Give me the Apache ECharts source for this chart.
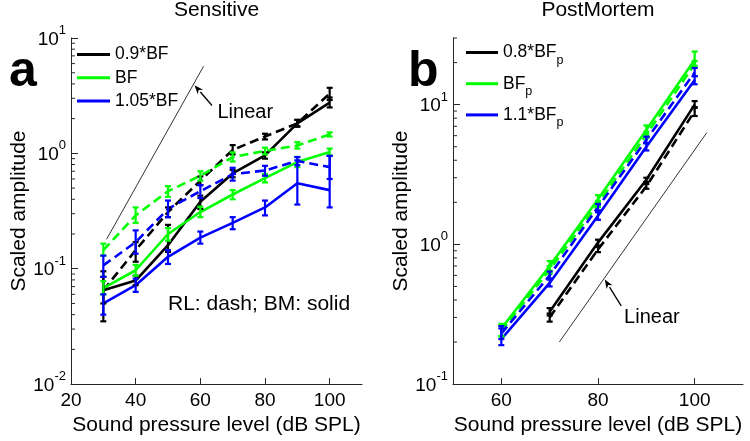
<!DOCTYPE html>
<html><head><meta charset="utf-8">
<script src="https://cdn.jsdelivr.net/npm/echarts@6/dist/echarts.min.js"></script>
<style>html,body{margin:0;padding:0;background:#fff}#c{width:750px;height:441px}</style>
</head><body><div id="c"></div>
<script>
// ---------- Panel a: Sensitive ----------
const splA = [30, 40, 50, 60, 70, 80, 90, 100];
const blackRL   = [0.065, 0.145, 0.31, 0.58, 1.07, 1.40, 1.82, 3.3];
const blackRLlo = [0.05, 0.115, 0.28, 0.53, 0.98, 1.32, 1.72, 2.9];
const blackRLhi = [0.085, 0.17, 0.34, 0.63, 1.18, 1.48, 1.95, 3.7];
const blackBM   = [0.065, 0.079, 0.16, 0.38, 0.67, 0.96, 1.82, 2.75];
const blackBMlo = [0.035, 0.072, 0.14, 0.33, 0.62, 0.90, 1.70, 2.5];
const blackBMhi = [0.095, 0.087, 0.24, 0.43, 0.72, 1.02, 1.95, 3.05];
const greenRL   = [0.145, 0.29, 0.47, 0.64, 0.93, 1.05, 1.17, 1.46];
const greenRLlo = [0.13, 0.25, 0.42, 0.58, 0.85, 0.98, 1.10, 1.40];
const greenRLhi = [0.165, 0.34, 0.52, 0.70, 1.02, 1.12, 1.25, 1.52];
const greenBM   = [0.068, 0.097, 0.20, 0.31, 0.44, 0.61, 0.84, 1.03];
const greenBMlo = [0.06, 0.087, 0.175, 0.28, 0.40, 0.56, 0.76, 0.96];
const greenBMhi = [0.078, 0.108, 0.225, 0.345, 0.48, 0.66, 0.93, 1.10];
const blueRL    = [0.107, 0.17, 0.33, 0.47, 0.66, 0.71, 0.86, 0.76];
const blueRLlo  = [0.085, 0.135, 0.28, 0.41, 0.58, 0.64, 0.79, 0.60];
const blueRLhi  = [0.13, 0.215, 0.39, 0.53, 0.75, 0.78, 0.93, 0.95];
const blueBM    = [0.05, 0.072, 0.127, 0.186, 0.25, 0.34, 0.55, 0.48];
const blueBMlo  = [0.04, 0.063, 0.11, 0.165, 0.22, 0.29, 0.36, 0.34];
const blueBMhi  = [0.06, 0.082, 0.145, 0.21, 0.28, 0.39, 0.87, 0.95];
const linearA_x = [31, 61];
const linearA_y = [0.18, 5.69];
const namesA = ['0.9*BF', 'BF', '1.05*BF'];
const xTicksA = [20, 40, 60, 80, 100];
const yTicksA = [0.01, 0.1, 1, 10];
const yMinorA = [0.02,0.03,0.04,0.05,0.06,0.07,0.08,0.09,0.2,0.3,0.4,0.5,0.6,0.7,0.8,0.9,2,3,4,5,6,7,8,9];

// ---------- Panel b: PostMortem ----------
const splB  = [60, 70, 80, 90, 100];
const splBk = [70, 80, 90, 100];
const greenBMp   = [0.25, 0.70, 2.1, 6.6, 21];
const greenBMplo = [0.22, 0.65, 1.95, 6.1, 19];
const greenBMphi = [0.27, 0.76, 2.25, 7.1, 24];
const greenRLp   = [0.24, 0.66, 1.95, 6.1, 19.5];
const greenRLplo = [0.22, 0.62, 1.85, 5.8, 18.5];
const greenRLphi = [0.26, 0.70, 2.05, 6.4, 20.5];
const blueRLp    = [0.23, 0.60, 1.85, 5.6, 17];
const blueRLplo  = [0.21, 0.56, 1.75, 5.3, 16];
const blueRLphi  = [0.25, 0.64, 1.95, 5.9, 18.3];
const blueBMp    = [0.21, 0.53, 1.6, 5.0, 15];
const blueBMplo  = [0.19, 0.50, 1.5, 4.7, 14];
const blueBMphi  = [0.26, 0.57, 1.7, 5.3, 16];
const blackBMp   = [0.33, 1.03, 2.9, 10];
const blackBMplo = [0.31, 0.98, 2.8, 9.5];
const blackBMphi = [0.35, 1.08, 3.0, 10.6];
const blackRLp   = [0.30, 0.92, 2.6, 9.0];
const blackRLplo = [0.28, 0.88, 2.5, 8.3];
const blackRLphi = [0.32, 0.96, 2.7, 9.6];
const linearB_x = [72, 102.5];
const linearB_y = [0.2, 6.3];
const namesB = ['0.8*BFp', 'BFp', '1.1*BFp'];
const xTicksB = [60, 80, 100];
const yTicksB = [0.1, 1, 10];
const yMinorB = [0.2,0.3,0.4,0.5,0.6,0.7,0.8,0.9,2,3,4,5,6,7,8,9,20,30];

// annotation anchors (data space): arrow tail, arrow head, text position
const arrowA = [63.6, 2.6, 58.2, 3.9];
const textA  = [65.3, 2.26];
const arrowB = [84.8, 0.363, 81.4, 0.56];
const textB  = [85.4, 0.30];

const FONT = "'Liberation Sans', Arial, sans-serif";
const BLACK = '#000000', GREEN = '#00ff00', BLUE = '#0000ff';
const AX = '#262626';

function zip(xs, ys) { return xs.map((x, i) => [x, ys[i]]); }

function lineS(name, g, xs, ys, color, dashed) {
  return {
    type: 'line', name: name, xAxisIndex: g, yAxisIndex: g,
    data: zip(xs, ys), symbol: 'none', z: 3, silent: true,
    itemStyle: { color: color },
    lineStyle: { color: color, width: 2.6, type: dashed ? [9, 5] : 'solid' }
  };
}
function errS(g, xs, lo, hi, color) {
  return {
    type: 'custom', xAxisIndex: g, yAxisIndex: g, silent: true, z: 4,
    data: xs.map((x, i) => [x, lo[i], hi[i]]),
    encode: { x: 0, y: [1, 2] },
    renderItem: function (params, api) {
      const x = api.value(0);
      const p1 = api.coord([x, api.value(1)]);
      const p2 = api.coord([x, api.value(2)]);
      const w = 3, st = { stroke: color, lineWidth: 2.2 };
      return { type: 'group', children: [
        { type: 'line', shape: { x1: p1[0], y1: p1[1], x2: p2[0], y2: p2[1] }, style: st },
        { type: 'line', shape: { x1: p1[0] - w, y1: p1[1], x2: p1[0] + w, y2: p1[1] }, style: st },
        { type: 'line', shape: { x1: p2[0] - w, y1: p2[1], x2: p2[0] + w, y2: p2[1] }, style: st }
      ]};
    }
  };
}
function minorS(g, xmin, vals) {
  return {
    type: 'custom', xAxisIndex: g, yAxisIndex: g, silent: true, z: 1,
    data: vals.map(v => [xmin, v]),
    encode: { x: 0, y: 1 },
    renderItem: function (params, api) {
      const p = api.coord([api.value(0), api.value(1)]);
      return { type: 'line', shape: { x1: p[0], y1: p[1], x2: p[0] + 4, y2: p[1] }, style: { stroke: AX, lineWidth: 1 } };
    }
  };
}
function arrowS(g, a) {
  return {
    type: 'custom', xAxisIndex: g, yAxisIndex: g, silent: true, z: 5,
    data: [a], encode: { x: [0, 2], y: [1, 3] },
    renderItem: function (params, api) {
      const p1 = api.coord([api.value(0), api.value(1)]);
      const p2 = api.coord([api.value(2), api.value(3)]);
      const dx = p2[0] - p1[0], dy = p2[1] - p1[1];
      const L = Math.sqrt(dx * dx + dy * dy), ux = dx / L, uy = dy / L;
      const hl = 9, hw = 3.5;
      const bx = p2[0] - ux * hl, by = p2[1] - uy * hl;
      return { type: 'group', children: [
        { type: 'line', shape: { x1: p1[0], y1: p1[1], x2: bx, y2: by }, style: { stroke: '#000', lineWidth: 1.3 } },
        { type: 'polygon', shape: { points: [[p2[0], p2[1]], [bx - uy * hw, by + ux * hw], [bx + ux * 2.5, by + uy * 2.5], [bx + uy * hw, by - ux * hw]] },
          style: { fill: '#000' } }
      ]};
    }
  };
}
function linearS(g, xs, ys, textAt) {
  return {
    type: 'line', name: 'Linear' + g, xAxisIndex: g, yAxisIndex: g, silent: true,
    data: zip(xs, ys), symbol: 'none', z: 2,
    lineStyle: { color: '#333', width: 1 },
    markPoint: {
      silent: true,
      data: [{ coord: textAt, symbol: 'circle', symbolSize: 0,
        label: { show: true, position: 'right', distance: 0, formatter: 'Linear',
          fontSize: 20, fontFamily: FONT, color: '#000' } }]
    }
  };
}
const supLabel = {
  fontSize: 19, fontFamily: FONT, color: '#000', margin: 5,
  formatter: function (v) {
    const e = Math.round(Math.log10(v));
    if (Math.abs(Math.log10(v) - e) > 1e-6) return '';
    return '{b|10}{s|' + e + '}';
  },
  rich: {
    b: { fontSize: 19, fontFamily: FONT, color: '#000', lineHeight: 22, verticalAlign: 'bottom' },
    s: { fontSize: 13, fontFamily: FONT, color: '#000', lineHeight: 14, verticalAlign: 'bottom', padding: [0, 0, 12, 0] }
  }
};
function xAxisDef(g, min, max, ticks) {
  return {
    type: 'value', gridIndex: g, min: min, max: max,
    name: 'Sound pressure level (dB SPL)', nameLocation: 'middle', nameGap: 27,
    nameTextStyle: { fontSize: 21, fontFamily: FONT, color: '#000' },
    axisLine: { show: true, lineStyle: { color: AX, width: 1 } },
    axisTick: { show: true, inside: true, length: 6, customValues: ticks, lineStyle: { color: AX } },
    axisLabel: { fontSize: 19, fontFamily: FONT, color: '#000', margin: 7, customValues: ticks },
    splitLine: { show: false }
  };
}
function yAxisDef(g, min, max, ticks) {
  return {
    type: 'log', logBase: 10, gridIndex: g, min: min, max: max,
    name: 'Scaled amplitude', nameLocation: 'middle', nameGap: 41,
    nameTextStyle: { fontSize: 21, fontFamily: FONT, color: '#000' },
    axisLine: { show: true, lineStyle: { color: AX, width: 1 } },
    axisTick: { show: true, inside: true, length: 7, customValues: ticks, lineStyle: { color: AX } },
    axisLabel: Object.assign({ customValues: ticks }, supLabel),
    splitLine: { show: false }, minorTick: { show: false }
  };
}

const chart = echarts.init(document.getElementById('c'), null, { renderer: 'canvas' });
chart.setOption({
  animation: false,
  backgroundColor: '#fff',
  textStyle: { fontFamily: FONT },
  title: [
    { text: 'Sensitive', left: 216.5, textAlign: 'center', top: 0, padding: 0,
      textStyle: { fontSize: 21, fontWeight: 'normal', fontFamily: FONT, color: '#000' } },
    { text: 'PostMortem', left: 598, textAlign: 'center', top: 0, padding: 0,
      textStyle: { fontSize: 21, fontWeight: 'normal', fontFamily: FONT, color: '#000' } }
  ],
  grid: [
    { left: 71, top: 38, width: 291, height: 347 },
    { left: 453, top: 38, width: 290, height: 347 }
  ],
  xAxis: [xAxisDef(0, 20, 110, xTicksA), xAxisDef(1, 50, 110, xTicksB)],
  yAxis: [yAxisDef(0, 0.01, 10, yTicksA), yAxisDef(1, 0.1, 30, yTicksB)],
  legend: [
    { data: namesA, orient: 'vertical', left: 77, top: 44, padding: 0,
      icon: 'rect', itemWidth: 33, itemHeight: 3, itemGap: 2.3, selectedMode: false,
      textStyle: { fontSize: 17.5, fontFamily: FONT, color: '#000', lineHeight: 21 } },
    { data: namesB, orient: 'vertical', left: 466, top: 38, padding: 0,
      icon: 'rect', itemWidth: 32, itemHeight: 3, itemGap: 2.2, selectedMode: false,
      formatter: function (n) { return '{n|' + n.slice(0, -1) + '}{s|p}'; },
      textStyle: { color: '#000', fontFamily: FONT,
        rich: {
          n: { fontSize: 17.5, fontFamily: FONT, color: '#000', lineHeight: 21, verticalAlign: 'middle' },
          s: { fontSize: 12.5, fontFamily: FONT, color: '#000', lineHeight: 14, verticalAlign: 'middle', padding: [16, 0, 0, 0] }
        } } }
  ],
  graphic: [
    { type: 'text', left: 9, top: 47, silent: true,
      style: { text: 'a', font: "bold 50px 'Liberation Sans', Arial, sans-serif", fill: '#000' } },
    { type: 'text', left: 408, top: 47, silent: true,
      style: { text: 'b', font: "bold 50px 'Liberation Sans', Arial, sans-serif", fill: '#000' } },
    { type: 'text', left: 168, top: 294, silent: true,
      style: { text: 'RL: dash; BM: solid', font: "21px 'Liberation Sans', Arial, sans-serif", fill: '#000' } }
  ],
  series: [
    minorS(0, 20, yMinorA),
    minorS(1, 50, yMinorB),
    linearS(0, linearA_x, linearA_y, textA),
    linearS(1, linearB_x, linearB_y, textB),
    arrowS(0, arrowA),
    arrowS(1, arrowB),
    // panel a
    lineS('0.9*BF', 0, splA, blackBM, BLACK, false),
    lineS('0.9*BF RL', 0, splA, blackRL, BLACK, true),
    lineS('BF', 0, splA, greenBM, GREEN, false),
    lineS('BF RL', 0, splA, greenRL, GREEN, true),
    lineS('1.05*BF', 0, splA, blueBM, BLUE, false),
    lineS('1.05*BF RL', 0, splA, blueRL, BLUE, true),
    errS(0, splA, blackBMlo, blackBMhi, BLACK),
    errS(0, splA, blackRLlo, blackRLhi, BLACK),
    errS(0, splA, greenBMlo, greenBMhi, GREEN),
    errS(0, splA, greenRLlo, greenRLhi, GREEN),
    errS(0, splA, blueBMlo, blueBMhi, BLUE),
    errS(0, splA, blueRLlo, blueRLhi, BLUE),
    // panel b
    lineS('0.8*BFp', 1, splBk, blackBMp, BLACK, false),
    lineS('0.8*BFp RL', 1, splBk, blackRLp, BLACK, true),
    lineS('BFp', 1, splB, greenBMp, GREEN, false),
    lineS('BFp RL', 1, splB, greenRLp, GREEN, true),
    lineS('1.1*BFp', 1, splB, blueBMp, BLUE, false),
    lineS('1.1*BFp RL', 1, splB, blueRLp, BLUE, true),
    errS(1, splBk, blackBMplo, blackBMphi, BLACK),
    errS(1, splBk, blackRLplo, blackRLphi, BLACK),
    errS(1, splB, greenBMplo, greenBMphi, GREEN),
    errS(1, splB, greenRLplo, greenRLphi, GREEN),
    errS(1, splB, blueBMplo, blueBMphi, BLUE),
    errS(1, splB, blueRLplo, blueRLphi, BLUE)
  ]
});
</script>
</body></html>
